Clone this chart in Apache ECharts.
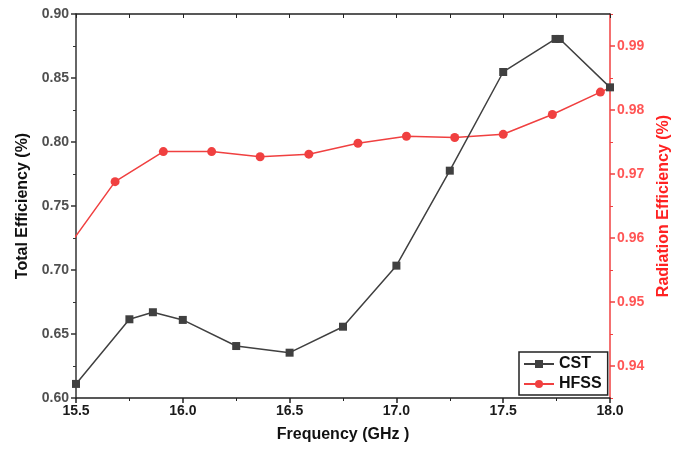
<!DOCTYPE html>
<html>
<head>
<meta charset="utf-8">
<script src="https://cdn.jsdelivr.net/npm/echarts@6/dist/echarts.min.js"></script>
<style>
  html, body { margin: 0; padding: 0; background: #fff; }
  #chart { width: 681px; height: 451px; }
</style>
</head>
<body>
<div id="chart"></div>
<script>
  // CST total efficiency (frequency in GHz, value)
  var cstFreq = [15.5, 15.75, 15.86, 16.0, 16.25, 16.5, 16.75, 17.0, 17.25, 17.5, 17.745, 17.765, 18.0];
  var cstVal  = [0.611, 0.6615, 0.667, 0.661, 0.6406, 0.6354, 0.6557, 0.7034, 0.7776, 0.8547, 0.8805, 0.8805, 0.8427];

  // HFSS radiation efficiency (first and last points fall outside the frame)
  var hfssFreq = [15.456, 15.683, 15.909, 16.135, 16.362, 16.59, 16.82, 17.047, 17.273, 17.5, 17.73, 17.955, 18.18];
  var hfssVal  = [0.9583, 0.9688, 0.9735, 0.9735, 0.9727, 0.9731, 0.9748, 0.9759, 0.9757, 0.9762, 0.9793, 0.9828, 0.9862];

  var radMajor = [0.94, 0.95, 0.96, 0.97, 0.98, 0.99];
  var radMinor = [0.935, 0.945, 0.955, 0.965, 0.975, 0.985, 0.995];

  var RED = '#f04040';
  var DARK = '#404040';
  var FONT = 'Liberation Sans';

  function pairs(xs, ys) {
    return xs.map(function (x, i) { return [x, ys[i]]; });
  }

  var chart = echarts.init(document.getElementById('chart'));

  chart.setOption({
    animation: false,
    textStyle: { fontFamily: FONT },
    grid: { left: 76, right: 71, top: 14, bottom: 53 },
    legend: {
      orient: 'vertical',
      left: 519, top: 352,
      itemWidth: 30, itemHeight: 10, itemGap: 4,
      padding: [4, 6, 3, 4],
      borderColor: '#222', borderWidth: 1.5,
      textStyle: { fontFamily: FONT, fontWeight: 'bold', fontSize: 16, color: '#111' },
      data: ['CST', 'HFSS']
    },
    xAxis: [{
      type: 'value', min: 15.5, max: 18, interval: 0.5,
      name: 'Frequency (GHz )', nameLocation: 'middle', nameGap: 29,
      nameTextStyle: { fontFamily: FONT, fontWeight: 'bold', fontSize: 16, color: '#111' },
      axisLine: { lineStyle: { color: '#222', width: 1.5 } },
      axisTick: { inside: false, length: 5, lineStyle: { color: '#222', width: 1.5 } },
      minorTick: { show: true, splitNumber: 2, length: 3, lineStyle: { color: '#222' } },
      axisLabel: { fontFamily: FONT, fontWeight: 'bold', fontSize: 14, color: '#1a1a1a', margin: 6,
        formatter: function (v) { return v.toFixed(1); } },
      splitLine: { show: false }
    }, {
      type: 'value', position: 'top', min: 15.5, max: 18, interval: 0.25,
      axisLine: { show: true, lineStyle: { color: '#222', width: 1.5 } },
      axisTick: { inside: true, length: 4, lineStyle: { color: '#222' } },
      axisLabel: { show: false },
      splitLine: { show: false }
    }],
    yAxis: [{
      type: 'value', min: 0.6, max: 0.9, interval: 0.05,
      name: 'Total Efficiency (%)', nameLocation: 'middle', nameGap: 45,
      nameTextStyle: { fontFamily: FONT, fontWeight: 'bold', fontSize: 16, color: '#111' },
      axisLine: { show: true, lineStyle: { color: '#333', width: 1.5 } },
      axisTick: { length: 5, lineStyle: { color: '#333', width: 1.5 } },
      minorTick: { show: true, splitNumber: 2, length: 3, lineStyle: { color: '#333' } },
      axisLabel: { fontFamily: FONT, fontWeight: 'bold', fontSize: 14, color: '#505050', margin: 7,
        formatter: function (v) { return v.toFixed(2); } },
      splitLine: { show: false }
    }, {
      type: 'value', position: 'right', min: 0.935, max: 0.995,
      name: 'Radiation Efficiency (%)', nameLocation: 'middle', nameGap: 45, nameRotate: 90,
      nameTextStyle: { fontFamily: FONT, fontWeight: 'bold', fontSize: 16, color: '#f22' },
      axisLine: { show: true, lineStyle: { color: RED, width: 1.5 } },
      axisTick: { length: 5, customValues: radMajor, lineStyle: { color: RED, width: 1.5 } },
      axisLabel: { customValues: radMajor, fontFamily: FONT, fontWeight: 'bold', fontSize: 14,
        color: '#f55', margin: 7, formatter: function (v) { return v.toFixed(2); } },
      splitLine: { show: false }
    }, {
      type: 'value', position: 'right', min: 0.935, max: 0.995,
      axisLine: { show: false },
      axisTick: { length: 3, customValues: radMinor, lineStyle: { color: RED } },
      axisLabel: { show: false, customValues: radMinor },
      splitLine: { show: false }
    }],
    series: [{
      name: 'CST', type: 'line', xAxisIndex: 0, yAxisIndex: 0,
      data: pairs(cstFreq, cstVal),
      symbol: 'rect', symbolSize: 8,
      lineStyle: { color: DARK, width: 1.5 },
      itemStyle: { color: DARK },
      z: 3
    }, {
      name: 'HFSS', type: 'line', xAxisIndex: 0, yAxisIndex: 1,
      data: pairs(hfssFreq, hfssVal),
      symbol: 'circle', symbolSize: 9,
      lineStyle: { color: RED, width: 1.5 },
      itemStyle: { color: RED },
      clip: true,
      z: 2
    }]
  });

  window.addEventListener('resize', chart.resize);
</script>
</body>
</html>
